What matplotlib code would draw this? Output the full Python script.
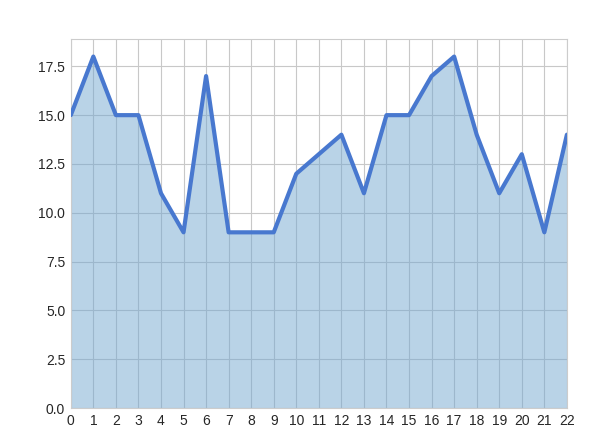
import matplotlib
matplotlib.use("Agg")
import matplotlib.pyplot as plt
import seaborn as sns

x = list(range(23))
y = [15, 18, 15, 15, 11, 9, 17, 9, 9, 9, 12, 13, 14, 11, 15, 15, 17, 18, 14, 11, 13, 9, 14]

sns.set_style("whitegrid")
plt.rcParams['font.family'] = ['Arial', 'Liberation Sans', 'DejaVu Sans']

fig = plt.figure(figsize=(6.05, 4.46), dpi=100)
ax = fig.add_axes([0.117, 0.085, 0.82, 0.8276])
ax.set_axisbelow(True)
ax.grid(True, color="#c8c8c8", linewidth=0.8)
ax.fill_between(x, y, 0, color="#74a8d0", alpha=0.5, linewidth=0, zorder=2)
ax.plot(x, y, color="#4878cf", linewidth=3, zorder=3)
ax.set_xlim(0, 22)
ax.set_ylim(0, 18.9)
ax.set_xticks(x)
for s in ax.spines.values():
    s.set_color("#cccccc")
ax.tick_params(labelsize=10, length=0, pad=4)

fig.savefig("out.png", dpi=100)
